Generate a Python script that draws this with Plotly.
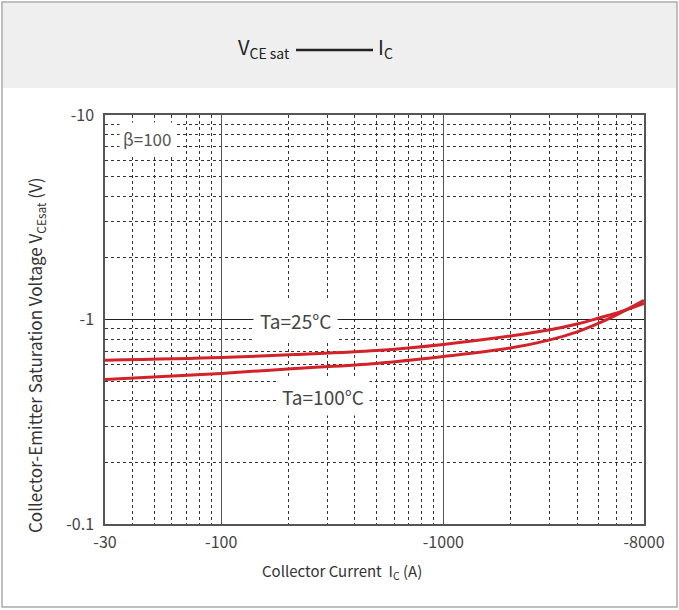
import plotly.graph_objects as go
import math

# ---- data ----
ic = [30, 100, 215, 500, 1000, 2000, 3020, 4000, 5070, 6240, 8000]
vce_25 = [0.632, 0.652, 0.674, 0.705, 0.755, 0.83, 0.89, 0.95, 1.02, 1.09, 1.20]
vce_100 = [0.509, 0.545, 0.576, 0.61, 0.659, 0.725, 0.795, 0.87, 0.965, 1.075, 1.24]

x_major = [30, 100, 1000, 8000]
x_major_text = ["-30", "-100", "-1000", "-8000"]
x_minor = [40, 50, 60, 70, 80, 90, 200, 300, 400, 500, 600, 700, 800, 900,
           2000, 3000, 4000, 5000, 6000, 7000]
y_major = [0.1, 1, 10]
y_major_text = ["-0.1", "-1", "-10"]
y_minor = [0.2, 0.3, 0.4, 0.5, 0.6, 0.7, 0.8, 0.9, 2, 3, 4, 5, 6, 7, 8, 9]

FONT = "Noto Sans CJK SC"
W, H = 679, 610
L, R, T, B = 105, 644, 115, 524


def px(x):
    return (x - L) / (R - L)


def py(y):
    return (B - y) / (B - T)


red = "#d2232a"
fig = go.Figure()
fig.add_trace(go.Scatter(x=ic, y=vce_25, mode="lines", line=dict(color=red, width=3, shape="spline", smoothing=1.0),
                         name="Ta=25°C", showlegend=False))
fig.add_trace(go.Scatter(x=ic, y=vce_100, mode="lines", line=dict(color=red, width=3, shape="spline", smoothing=1.0),
                         name="Ta=100°C", showlegend=False))

fig.update_xaxes(type="log", range=[math.log10(30), math.log10(8000)],
                 tickvals=x_major, ticktext=x_major_text,
                 showgrid=True, gridcolor="#555", gridwidth=1,
                 showline=True, linecolor="#555", linewidth=1.5, mirror=True,
                 ticks="", tickfont=dict(family=FONT, size=16, color="#444"),
                 ticklabelstandoff=3,
                 minor=dict(tickvals=x_minor, showgrid=True, griddash="3px,3px", gridcolor="#333",
                            gridwidth=1, ticks=""),
                 zeroline=False)
fig.update_yaxes(type="log", range=[-1, 1],
                 tickvals=y_major, ticktext=y_major_text,
                 showgrid=True, gridcolor="#222", gridwidth=1,
                 showline=True, linecolor="#555", linewidth=1.5, mirror=True,
                 ticks="", tickfont=dict(family=FONT, size=16, color="#444"),
                 ticklabelstandoff=6,
                 minor=dict(tickvals=y_minor, showgrid=True, griddash="3px,3px", gridcolor="#333",
                            gridwidth=1, ticks=""),
                 zeroline=False)

shapes = [
    dict(type="rect", xref="paper", yref="paper", x0=px(3), x1=px(676), y0=py(88), y1=py(3),
         fillcolor="#efefef", line=dict(width=0), layer="below"),
    dict(type="rect", xref="paper", yref="paper", x0=px(2), x1=px(677), y0=py(607), y1=py(2),
         fillcolor="rgba(0,0,0,0)", line=dict(color="#aaa", width=1.5)),
    dict(type="line", xref="paper", yref="paper", x0=px(296), x1=px(373), y0=py(50), y1=py(50),
         line=dict(color="#222", width=2.5)),
]

ann = [
    dict(text="V<sub>CE sat</sub>", x=px(292), y=py(48), xanchor="right", yanchor="middle",
         font=dict(family=FONT, size=20, color="#222")),
    dict(text="I<sub>C</sub>", x=px(376), y=py(48), xanchor="left", yanchor="middle",
         font=dict(family=FONT, size=20, color="#222")),
    dict(text="Collector Current  I<sub>C</sub> (A)", x=px(342), y=py(571), xanchor="center", yanchor="middle",
         font=dict(family=FONT, size=15, color="#333")),
    dict(text="Collector-Emitter Saturation Voltage V<sub>CEsat</sub> (V)", x=px(35), y=py(355),
         xanchor="center", yanchor="middle", textangle=-90,
         font=dict(family=FONT, size=17, color="#333")),
    dict(text="β=100", x=px(147), y=py(138), xanchor="center", yanchor="middle",
         bgcolor="white", borderpad=3, font=dict(family=FONT, size=17, color="#555")),
    dict(text="Ta=25°C", x=px(295), y=py(320), xanchor="center", yanchor="middle",
         bgcolor="white", borderpad=6, font=dict(family=FONT, size=19, color="#444")),
    dict(text="Ta=100°C", x=px(323), y=py(396), xanchor="center", yanchor="middle",
         bgcolor="white", borderpad=5, font=dict(family=FONT, size=19, color="#444")),
]
for a in ann:
    a.update(xref="paper", yref="paper", showarrow=False)

fig.update_layout(width=W, height=H, margin=dict(l=L, r=W - R, t=T, b=H - B),
                  paper_bgcolor="white", plot_bgcolor="white",
                  shapes=shapes, annotations=ann, showlegend=False)

fig.write_html("out.html")
